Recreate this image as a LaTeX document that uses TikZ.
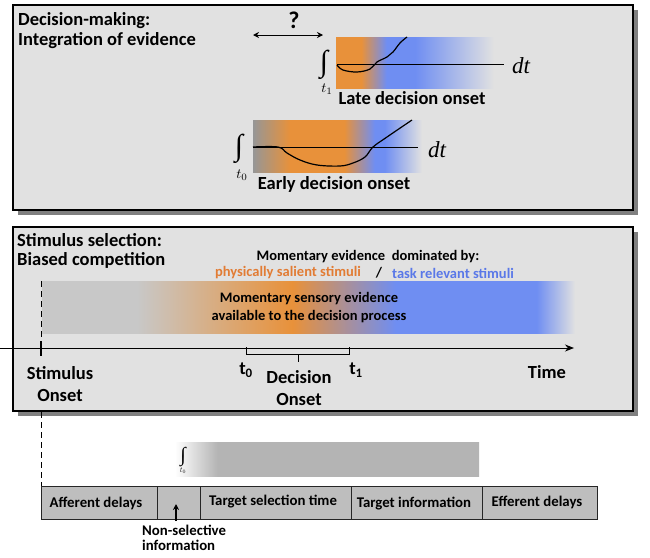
\documentclass[tikz,border=0pt]{standalone}
\usepackage{fontspec}
\setmainfont{Carlito}
\newfontfamily\serifit{Liberation Serif}
\usetikzlibrary{arrows.meta}
\definecolor{bgbox}{RGB}{225,225,225}
\definecolor{gbar}{RGB}{200,200,200}
\definecolor{gdark}{RGB}{150,150,150}
\definecolor{orng}{RGB}{232,145,58}
\definecolor{blu}{RGB}{111,142,242}
\definecolor{orngtxt}{RGB}{226,124,52}
\definecolor{blutxt}{RGB}{90,120,232}
\definecolor{gbot}{RGB}{180,180,180}
\definecolor{boxfill}{RGB}{190,190,190}
\pgfdeclarehorizontalshading{mainbar}{100bp}{color(0bp)=(gbar); color(33.9bp)=(gbar); color(48.5bp)=(orng); color(58.2bp)=(blu); color(71.4bp)=(blu); color(75bp)=(bgbox); color(100bp)=(bgbox)}
\pgfdeclarehorizontalshading{latebar}{100bp}{color(0bp)=(orng); color(33bp)=(orng); color(41bp)=(blu); color(50bp)=(blu); color(75bp)=(bgbox); color(100bp)=(bgbox)}
\pgfdeclarehorizontalshading{earlybar}{100bp}{color(0bp)=(gdark); color(25bp)=(gdark); color(36bp)=(orng); color(52bp)=(orng); color(61bp)=(blu); color(64bp)=(blu); color(75bp)=(bgbox); color(100bp)=(bgbox)}
\pgfdeclarehorizontalshading{botbar}{100bp}{color(0bp)=(white); color(25bp)=(white); color(32bp)=(gbot); color(100bp)=(gbot)}
\newcommand{\subt}[2]{\scalebox{#1}{$t_{#2}$}}
\tikzset{
  panel/.style={draw=black, line width=1.3pt, fill=bgbox},
  shadowbox/.style={fill=black!50},
  lbl/.style={font=\bfseries\fontsize{18.5}{21}\selectfont, inner sep=0pt},
  mlbl/.style={font=\bfseries\fontsize{14.5}{17}\selectfont, inner sep=0pt},
  slbl/.style={font=\bfseries\fontsize{14.8}{17}\selectfont, inner sep=0pt},
  dtlbl/.style={font=\serifit\itshape\fontsize{23}{25}\selectfont, inner sep=0pt},
  intg/.style={inner sep=0pt, font=\serifit\fontsize{30}{32}\selectfont},
  sub/.style={inner sep=0pt},
  curve/.style={line width=1.2pt, line join=round},
  hline/.style={line width=0.9pt},
  segbox/.style={draw=black!85, line width=0.8pt, fill=boxfill, minimum height=33pt, inner sep=0pt, anchor=north west},
}
\begin{document}
\begin{tikzpicture}[x=1pt,y=-1pt]
\useasboundingbox (0,0) rectangle (650,557);
\fill[white] (0,0) rectangle (650,557);
% ---------------- top panel
\fill[shadowbox] (18,10) rectangle (638,215);
\draw[panel] (13,5) rectangle (633,210);
\node[lbl, anchor=west] (dm) at (18,21) {Decision-making:};
\node[lbl, anchor=west] (ie) at (18,41) {Integration of evidence};
\node[font=\bfseries\fontsize{24}{26}\selectfont, inner sep=0pt] (q) at (294,20) {?};
\coordinate (qa) at (253,35);
\coordinate (qb) at (323,35);
\draw[line width=1pt, {Stealth[length=6pt,width=6pt]}-{Stealth[length=6pt,width=6pt]}] (qa) -- (qb);
% late
\shade[shading=latebar] (336,37) rectangle (494,88);
\coordinate (ll) at (337,64);
\coordinate (lr) at (504,64);
\draw[hline] (ll) -- (lr);
\draw[curve] plot[smooth, tension=0.6] coordinates {(337,65) (343,70) (357,72) (370,69) (377,62) (387,57) (393,52) (400,43) (407,37)};
\node[intg] (i1) at (324,65) {∫};
\node[sub] (t1s) at (327,89) {\subt{1.4}{1}};
\node[dtlbl] (dt1) at (521,66) {dt};
\node[lbl] (late) at (412,98) {Late decision onset};
% early
\shade[shading=earlybar] (253,120) rectangle (422,172);
\coordinate (el) at (253,147);
\coordinate (er) at (418,147);
\draw[hline] (el) -- (er);
\draw[curve] plot[smooth, tension=0.6] coordinates {(253,147) (278,147) (287,153) (300,160) (317,165) (340,166) (353,163) (365,157) (373,147) (387,137) (412,120)};
\node[intg] (i0) at (239,149) {∫};
\node[sub] (t0s) at (242,175) {\subt{1.4}{0}};
\node[dtlbl] (dt0) at (437,150) {dt};
\node[lbl] (early) at (334,184) {Early decision onset};
% ---------------- middle panel
\fill[shadowbox] (18,232) rectangle (638,416);
\draw[panel] (13,227) rectangle (633,411);
\node[lbl, anchor=west] (ss) at (17,240) {Stimulus selection:};
\node[lbl, anchor=west] (bc) at (17,260) {Biased competition};
\node[mlbl] (me) at (368,257) {Momentary evidence\ \ dominated by:};
\node[mlbl, text=orngtxt] (ps) at (288,273) {physically salient stimuli};
\node[mlbl] (sl) at (379,273) {/};
\node[mlbl, text=blutxt] (tr) at (453,273) {task relevant stimuli};
\shade[shading=mainbar] (42,281) rectangle (575,333);
\node[mlbl, align=center, font=\bfseries\fontsize{14.5}{18}\selectfont] (mse) at (309,308) {Momentary sensory evidence\\available to the decision process};
% dashed line
\coordinate (d1) at (41,281);
\coordinate (d2) at (41,338);
\draw[dashed, line width=1pt, dash pattern=on 6pt off 4pt] (d1) -- (d2);
% axis
\coordinate (ax0) at (0,348);
\coordinate (ax1) at (574,348);
\draw[line width=1pt, -{Stealth[length=9pt,width=7pt]}] (ax0) -- (ax1);
\coordinate (tk1) at (41,341);
\coordinate (tk2) at (41,356);
\draw[line width=1.2pt] (tk1) -- (tk2);
% bracket
\coordinate (b0) at (246,347);
\coordinate (b1) at (246,354);
\coordinate (b2) at (349,354);
\coordinate (b3) at (349,347);
\coordinate (bm0) at (298,354);
\coordinate (bm1) at (298,362);
\draw[line width=1pt] (b0) -- (b1) -- (b2) -- (b3);
\draw[line width=1pt] (bm0) -- (bm1);
\node[lbl] (bt0) at (246,370) {t\textsubscript{0}};
\node[lbl] (bt1) at (356,370) {t\textsubscript{1}};
\node[lbl, align=center, font=\bfseries\fontsize{18.5}{22}\selectfont] (don) at (299,388) {Decision\\Onset};
\node[lbl, align=center, font=\bfseries\fontsize{18.5}{22}\selectfont] (son) at (60,384) {Stimulus\\Onset};
\node[lbl] (time) at (547,372) {Time};
% ---------------- bottom
\coordinate (d3) at (41,412);
\coordinate (d4) at (41,519);
\draw[dashed, line width=1pt, dash pattern=on 6pt off 4pt] (d3) -- (d4);
\shade[shading=botbar] (175,442) rectangle (479,476);
\node[intg, font=\serifit\fontsize{20}{22}\selectfont] (ib) at (183,457) {∫};
\node[sub] (tb) at (183,471) {\subt{0.75}{0}};
\node[segbox, minimum width=116pt] (s1) at (41,486) {};
\node[segbox, minimum width=43pt] (s2) at (157,486) {};
\node[segbox, minimum width=151pt] (s3) at (200,486) {};
\node[segbox, minimum width=131pt] (s4) at (351,486) {};
\node[segbox, minimum width=115pt] (s5) at (482,486) {};
\node[slbl] (l1) at (96,503) {Afferent delays};
\node[slbl] (l3) at (273,502) {Target selection time};
\node[slbl] (l4) at (414,504) {Target information};
\node[slbl] (l5) at (537,502) {Efferent delays};
\coordinate (ar0) at (176,521);
\coordinate (ar1) at (176,504);
\draw[line width=1.1pt, -{Stealth[length=6pt,width=6pt]}] (ar0) -- (ar1);
\node[slbl, align=left, anchor=north west, font=\bfseries\fontsize{14.8}{15}\selectfont] (ns) at (142,525) {Non-selective\\information};
\end{tikzpicture}
\end{document}
